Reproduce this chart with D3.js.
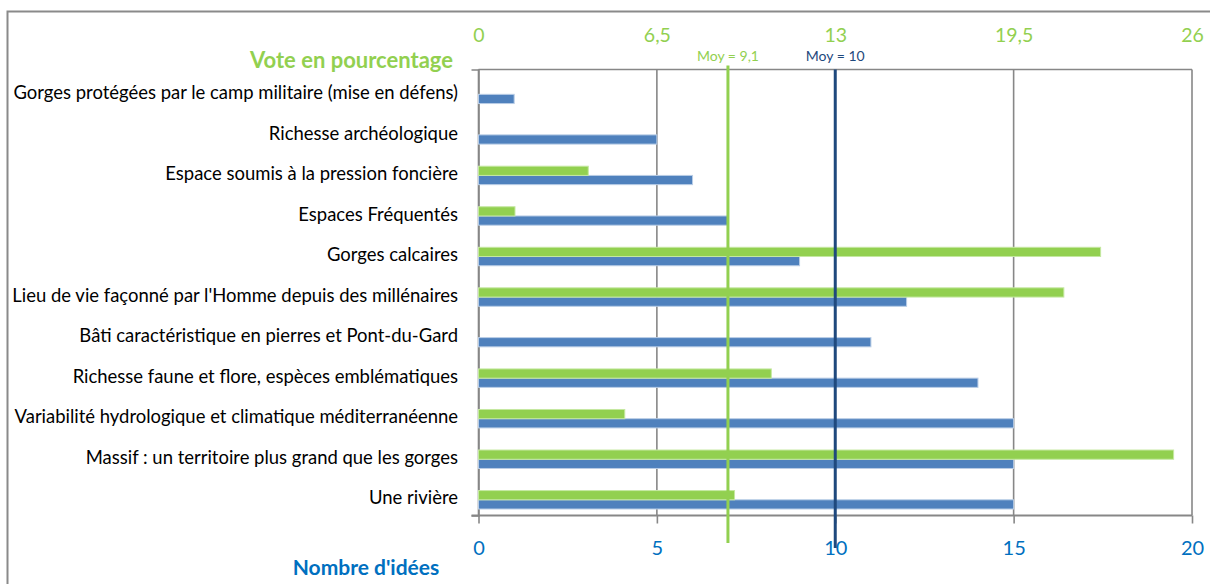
<!DOCTYPE html>
<html>
<head>
<meta charset="utf-8">
<script src="https://cdn.jsdelivr.net/npm/d3@7"></script>
<style>
  body { margin: 0; background: #fff; }
  svg { display: block; }
  text { font-family: Lato, "Open Sans", sans-serif; }
</style>
</head>
<body>
<svg id="chart" width="1210" height="584"></svg>
<script>
// Categories, top to bottom
const categories = [
  "Gorges protégées par le camp militaire (mise en défens)",
  "Richesse archéologique",
  "Espace soumis à la pression foncière",
  "Espaces Fréquentés",
  "Gorges calcaires",
  "Lieu de vie façonné par l'Homme depuis des millénaires",
  "Bâti caractéristique en pierres et Pont-du-Gard",
  "Richesse faune et flore, espèces emblématiques",
  "Variabilité hydrologique et climatique méditerranéenne",
  "Massif : un territoire plus grand que les gorges",
  "Une rivière"
];
// Number of ideas per category (bottom axis)
const ideas = [1, 5, 6, 7, 9, 12, 11, 14, 15, 15, 15];
// Share of votes, in percent (top axis)
const votes = [0, 0, 4.0, 1.33, 22.67, 21.33, 0, 10.67, 5.33, 25.33, 9.33];
// Tick values and labels
const ideaTicks = [0, 5, 10, 15, 20];
const voteTicks = [0, 6.5, 13, 19.5, 26];
const voteTickLabels = ["0", "6,5", "13", "19,5", "26"];
const ideaTickLabels = ["0", "5", "10", "15", "20"];
// Axis titles
const voteTitle = "Vote en pourcentage";
const ideaTitle = "Nombre d'idées";

const GREEN = "#92D050", BLUE = "#4F81BD", AXIS_BLUE = "#0070C0", DARK_BLUE = "#1F497D", GRID = "#878787";

const svg = d3.select("#chart");

// Outer frame
svg.append("rect")
  .attr("x", 7.5).attr("y", 11.5).attr("width", 1300).attr("height", 700)
  .attr("fill", "none").attr("stroke", "#8a8a8a").attr("stroke-width", 2);

const plot = { left: 478.5, right: 1192, top: 69.5, bottom: 515.5 };

const x = d3.scaleLinear().domain([0, 20]).range([plot.left, plot.right]);
const xv = d3.scaleLinear().domain([0, 26]).range([plot.left, plot.right]);
const y = d3.scaleBand().domain(categories).range([plot.top, plot.bottom]);
const bw = y.bandwidth();
const inner = d3.scaleBand().domain(["votes", "ideas"]).range([bw * 0.385, bw * 0.84]);

// Vertical gridlines
svg.append("g").selectAll("line").data(ideaTicks).join("line")
  .attr("x1", d => x(d)).attr("x2", d => x(d))
  .attr("y1", plot.top).attr("y2", plot.bottom)
  .attr("stroke", GRID).attr("stroke-width", 1.6);

// Plot top border
svg.append("line")
  .attr("x1", plot.left).attr("x2", plot.right)
  .attr("y1", plot.top).attr("y2", plot.top)
  .attr("stroke", GRID).attr("stroke-width", 1.6);

// Bottom axis (number of ideas)
const gx = svg.append("g")
  .attr("transform", `translate(0,${plot.bottom})`)
  .call(d3.axisBottom(x).tickValues(ideaTicks)
    .tickFormat((d, i) => ideaTickLabels[i])
    .tickSize(8).tickSizeOuter(0).tickPadding(17));
gx.select(".domain").remove();
gx.selectAll(".tick line").attr("stroke", GRID).attr("stroke-width", 1.6);
gx.selectAll(".tick text").attr("fill", AXIS_BLUE).attr("font-size", 20);
gx.append("line")
  .attr("x1", plot.left - 7).attr("x2", plot.right)
  .attr("stroke", GRID).attr("stroke-width", 1.8);

// Top axis (vote percentage)
const gv = svg.append("g")
  .attr("transform", `translate(0,${plot.top})`)
  .call(d3.axisTop(xv).tickValues(voteTicks)
    .tickFormat((d, i) => voteTickLabels[i])
    .tickSize(0).tickSizeOuter(0).tickPadding(28));
gv.select(".domain").remove();
gv.selectAll(".tick text").attr("fill", GREEN).attr("font-size", 19.5);

// Category axis
const gy = svg.append("g")
  .attr("transform", `translate(${plot.left},0)`)
  .call(d3.axisLeft(y).tickSize(0).tickSizeOuter(7).tickPadding(20.5));
gy.select(".domain").attr("stroke", GRID).attr("stroke-width", 1.6);
const catText = gy.selectAll(".tick text")
  .attr("fill", "#000").attr("font-size", 16).attr("dy", "0.5em");
const longest = d3.max(catText.nodes(), n => n.getComputedTextLength());
catText.attr("font-size", 16 * 446 / longest);

// Bars: votes (green) above ideas (blue)
svg.append("g").selectAll("rect")
  .data(categories.map((c, i) => ({ c, v: ideas[i] }))).join("rect")
  .attr("x", x(0)).attr("y", d => y(d.c) + inner("ideas"))
  .attr("width", d => x(d.v) - x(0)).attr("height", inner.bandwidth())
  .attr("fill", BLUE).attr("stroke", "#b9cde6").attr("stroke-width", 1);

svg.append("g").selectAll("rect")
  .data(categories.map((c, i) => ({ c, v: votes[i] })).filter(d => d.v > 0)).join("rect")
  .attr("x", xv(0)).attr("y", d => y(d.c) + inner("votes"))
  .attr("width", d => xv(d.v) - xv(0)).attr("height", inner.bandwidth())
  .attr("fill", GREEN).attr("stroke", "#c5e8a1").attr("stroke-width", 1);

// Mean lines
const fmt = v => Number.isInteger(+v.toFixed(1)) ? d3.format("d")(v) : d3.format(".1f")(v).replace(".", ",");
const meanVotes = d3.mean(votes);
const meanIdeas = d3.mean(ideas);

const means = [
  { v: xv(meanVotes), label: "Moy = " + fmt(meanVotes), color: GREEN, y1: 65.5, y2: 543 },
  { v: x(meanIdeas), label: "Moy = " + fmt(meanIdeas), color: DARK_BLUE, y1: plot.top, y2: 548 }
];
const gm = svg.append("g");
gm.selectAll("line").data(means).join("line")
  .attr("x1", d => d.v).attr("x2", d => d.v)
  .attr("y1", d => d.y1).attr("y2", d => d.y2)
  .attr("stroke", d => d.color).attr("stroke-width", 3);
gm.selectAll("text").data(means).join("text")
  .attr("x", d => d.v).attr("y", 61)
  .attr("text-anchor", "middle").attr("font-size", 14)
  .attr("fill", d => d.color).text(d => d.label);

// Axis titles
svg.append("text")
  .attr("x", 453).attr("y", 68).attr("text-anchor", "end")
  .attr("font-size", 22).attr("font-weight", "bold").attr("fill", GREEN)
  .text(voteTitle);
svg.append("text")
  .attr("x", 366).attr("y", 575).attr("text-anchor", "middle")
  .attr("font-size", 21).attr("font-weight", "bold").attr("fill", AXIS_BLUE)
  .text(ideaTitle);
</script>
</body>
</html>
